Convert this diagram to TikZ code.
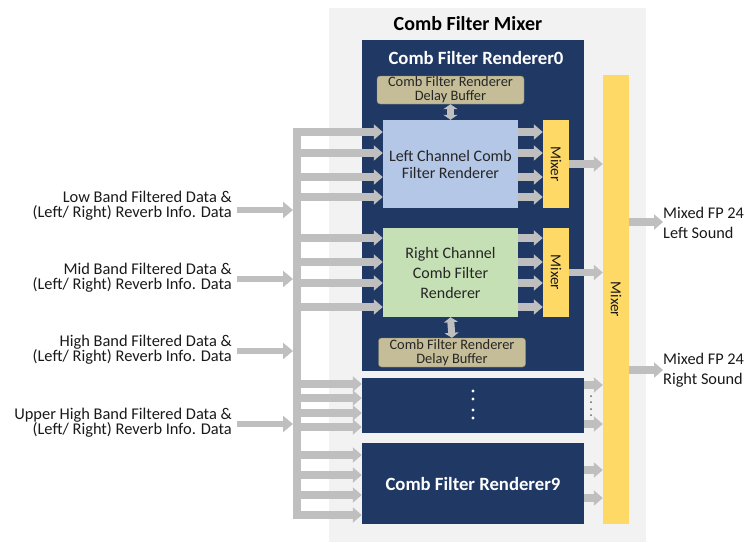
\documentclass[tikz,border=0pt]{standalone}
\usepackage{fontspec}
\setmainfont{Carlito}
\usetikzlibrary{arrows.meta,positioning,calc}
\definecolor{mixbg}{HTML}{F2F2F2}
\definecolor{rendnavy}{HTML}{1F3864}
\definecolor{flowgray}{HTML}{BFBFBF}
\definecolor{mixyellow}{HTML}{FFD966}
\definecolor{leftblue}{HTML}{B4C7E7}
\definecolor{rightgreen}{HTML}{C5E0B4}
\definecolor{buftan}{HTML}{C4BD97}

\tikzset{
  flow/.style={draw=flowgray, line width=7.5pt, -{Triangle[length=9pt,width=15pt]}},
  srcflow/.style={draw=flowgray, line width=6.5pt, -{Triangle[length=10pt,width=16pt]}},
  bidir/.style={draw=flowgray, line width=7pt, {Triangle[length=5pt,width=14pt]}-{Triangle[length=5pt,width=14pt]}},
  rendbox/.style={fill=rendnavy, inner sep=0pt, minimum width=222pt},
  chanbox/.style={inner sep=0pt, minimum width=135pt, minimum height=88pt, align=center, text=black!85},
  minimix/.style={fill=mixyellow, inner sep=0pt, minimum width=26pt, minimum height=88pt},
  bufbox/.style={fill=buftan, draw=buftan!70!black, rounded corners=3pt, inner sep=0pt, minimum width=147pt, minimum height=28pt, align=center, text=black!85, font=\fontsize{14.4}{14}\selectfont},
  srclabel/.style={anchor=east, align=right, inner sep=0pt, text=black!90, font=\fontsize{16.4}{15}\selectfont},
  outlabel/.style={anchor=west, align=left, inner sep=0pt, text=black!90, font=\fontsize{16.3}{20}\selectfont},
  mixtext/.style={rotate=-90, text=black!90, font=\fontsize{15.2}{15}\selectfont},
  rendtitle/.style={text=white, font=\bfseries\fontsize{18.7}{19}\selectfont}
}

\begin{document}
\begin{tikzpicture}[x=1pt,y=-1pt]
\useasboundingbox (0,0) rectangle (745,542);

% mixer frame
\node[fill=mixbg, inner sep=0pt, minimum width=317pt, minimum height=534pt] (mixer) at (487.5,275) {};
\node[font=\bfseries\fontsize{20}{20}\selectfont] (mixtitle) at (468,24) {Comb Filter Mixer};

% renderer 0
\node[rendbox, minimum height=331pt] (rend0) at (473,205.5) {};
\node[rendtitle] (rend0title) at (476,58) {Comb Filter Renderer0};
\node[bufbox] (buf0) at (450.5,90) {Comb Filter Renderer\\Delay Buffer};
\node[chanbox, fill=leftblue, font=\fontsize{16}{17}\selectfont] (lchan) at (450.5,164) {Left Channel Comb\\Filter Renderer};
\node[minimix] (lmix) at (556,164) {};
\node[mixtext] at (lmix) {Mixer};
\node[chanbox, fill=rightgreen, minimum height=89pt, font=\fontsize{16}{20}\selectfont] (rchan) at (450.5,272.5) {Right Channel\\Comb Filter\\Renderer};
\node[minimix, minimum height=89pt] (rmix) at (556,272.5) {};
\node[mixtext] at (rmix) {Mixer};
\node[bufbox, minimum height=29pt] (buf1) at (452,352.5) {Comb Filter Renderer\\Delay Buffer};
\draw[bidir] (buf0.south) -- (lchan.north);
\draw[bidir] (rchan.south) -- (buf1.north);

% renderers 1..8 and 9
\node[rendbox, minimum height=55pt] (rendn) at (473,405.5) {};
\foreach \y in {391,399,410,418}
  \fill[white] (rendn |- 0,\y) circle (1.7);
\node[rendbox, minimum height=81pt, rendtitle] (rend9) at (473,483.5) {Comb Filter Renderer9};

% main mixer
\node[fill=mixyellow, inner sep=0pt, minimum width=26pt, minimum height=449pt] (bigmix) at (616,299.5) {};
\node[mixtext] at (bigmix) {Mixer};

% inputs
\node[srclabel] (src1) at (232,205.5) {Low Band Filtered Data \&\\(Left/ Right) Reverb Info. Data};
\node[srclabel] (src2) at (232,278) {Mid Band Filtered Data \&\\(Left/ Right) Reverb Info. Data};
\node[srclabel] (src3) at (232,350) {High Band Filtered Data \&\\(Left/ Right) Reverb Info. Data};
\node[srclabel] (src4) at (232,422.5) {Upper High Band Filtered Data \&\\(Left/ Right) Reverb Info. Data};
\coordinate (trtop) at (297,128);
\coordinate (trbot) at (297,519);
\coordinate (trunk) at (293,0);
\draw[flowgray, line width=8pt] (trtop) -- (trbot);
\foreach \n/\y in {1/210,2/279,3/351,4/424}
  \draw[srcflow] ([xshift=5pt]src\n.east |- 0,\y) -- (trunk |- 0,\y);

% branches into renderers
\foreach \y in {132,153,177,197} {
  \draw[flow] (trunk |- 0,\y) -- (lchan.west |- 0,\y);
  \draw[flow] (lchan.east |- 0,\y) -- (lmix.west |- 0,\y);
}
\foreach \y in {238,262,283,307} {
  \draw[flow] (trunk |- 0,\y) -- (rchan.west |- 0,\y);
  \draw[flow] (rchan.east |- 0,\y) -- (rmix.west |- 0,\y);
}
\foreach \y in {384,398,413,427}
  \draw[flow] (trunk |- 0,\y) -- (rendn.west |- 0,\y);
\foreach \y in {455,475,495,515}
  \draw[flow] (trunk |- 0,\y) -- (rend9.west |- 0,\y);

% into the main mixer
\draw[flow] (lmix.east) -- (lmix.east -| bigmix.west);
\draw[flow] (rmix.east) -- (rmix.east -| bigmix.west);
\foreach \y in {385,424}
  \draw[flow] (rendn.east |- 0,\y) -- (bigmix.west |- 0,\y);
\foreach \y in {396,402,409,415}
  \fill[black!60] (591,\y) circle (1);
\foreach \y in {470,498}
  \draw[flow] (rend9.east |- 0,\y) -- (bigmix.west |- 0,\y);

% outputs
\node[outlabel] (outl) at (663,223) {Mixed FP 24\\Left Sound};
\node[outlabel] (outr) at (663,370.5) {Mixed FP 24\\Right Sound};
\draw[flow] (bigmix.east |- 0,222) -- (outl.west |- 0,222);
\draw[flow] (bigmix.east |- 0,370) -- (outr.west |- 0,370);
\end{tikzpicture}
\end{document}
